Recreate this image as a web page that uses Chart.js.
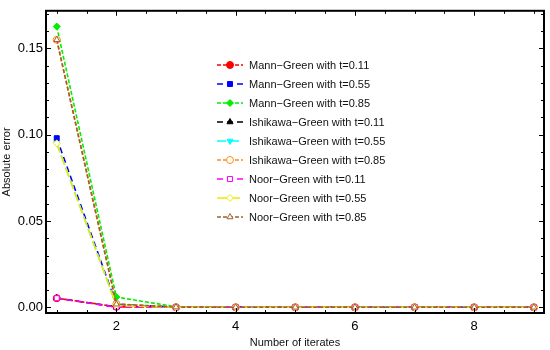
<!DOCTYPE html>
<html>
<head>
<meta charset="utf-8">
<script src="https://cdn.jsdelivr.net/npm/chart.js@4.4.0/dist/chart.umd.min.js"></script>
<style>
  html, body { margin: 0; padding: 0; background: #fff; }
  #wrap { width: 550px; height: 350px; }
</style>
</head>
<body>
<div id="wrap"><canvas id="chart" width="550" height="350"></canvas></div>
<script>
// --- data ---
const iterates = [1, 2, 3, 4, 5, 6, 7, 8, 9];
const xTickLabels = [2, 4, 6, 8];
const yTickLabels = [0.00, 0.05, 0.10, 0.15];

const seriesNames = [
    'Mann\u2212Green with t=0.11',
    'Mann\u2212Green with t=0.55',
    'Mann\u2212Green with t=0.85',
    'Ishikawa\u2212Green with t=0.11',
    'Ishikawa\u2212Green with t=0.55',
    'Ishikawa\u2212Green with t=0.85',
    'Noor\u2212Green with t=0.11',
    'Noor\u2212Green with t=0.55',
    'Noor\u2212Green with t=0.85'
];

const mann011 = [0.0053, 0.0003, 0, 0, 0, 0, 0, 0, 0];
const mann055 = [0.0980, 0.0017, 0.0001, 0, 0, 0, 0, 0, 0];
const mann085 = [0.1627, 0.0059, 0.0003, 0, 0, 0, 0, 0, 0];
const ishi011 = [0.0053, 0.0002, 0, 0, 0, 0, 0, 0, 0];
const ishi055 = [0.0950, 0.0012, 0, 0, 0, 0, 0, 0, 0];
const ishi085 = [0.1550, 0.0020, 0.0001, 0, 0, 0, 0, 0, 0];
const noor011 = [0.0053, 0.0001, 0, 0, 0, 0, 0, 0, 0];
const noor055 = [0.0950, 0.0010, 0, 0, 0, 0, 0, 0, 0];
const noor085 = [0.1550, 0.0018, 0.0001, 0, 0, 0, 0, 0, 0];

const seriesValues = [mann011, mann055, mann085, ishi011, ishi055, ishi085, noor011, noor055, noor085];

// --- styles ---
const seriesStyles = [
    { color: '#ff0000', fill: '#ff0000', point: 'circle', rot: 0, dash: [4, 2] },
    { color: '#0000ff', fill: '#0000ff', point: 'rect', rot: 0, dash: [6, 4] },
    { color: '#00ee00', fill: '#00ee00', point: 'rectRot', rot: 0, dash: [4, 2] },
    { color: '#000000', fill: '#000000', point: 'triangle', rot: 0, dash: [6, 4] },
    { color: '#00ffff', fill: '#00ffff', point: 'triangle', rot: 180, dash: [9, 4] },
    { color: '#ff8c1a', fill: '#ffffff', point: 'circle', rot: 0, dash: [4, 2] },
    { color: '#ff00ff', fill: '#ffffff', point: 'rect', rot: 0, dash: [6, 4] },
    { color: '#f0e800', fill: '#ffffff', point: 'rectRot', rot: 0, dash: [10, 3] },
    { color: '#a0602a', fill: '#ffffff', point: 'triangle', rot: 0, dash: [4, 2] }
];

const FONT = "'Liberation Sans', Arial, sans-serif";

const datasets = seriesNames.map((name, i) => ({
    label: name,
    data: iterates.map((x, j) => ({ x: x, y: seriesValues[i][j] })),
    borderColor: seriesStyles[i].color,
    backgroundColor: seriesStyles[i].fill,
    pointBorderColor: seriesStyles[i].color,
    pointBackgroundColor: seriesStyles[i].fill,
    pointStyle: seriesStyles[i].point,
    pointRotation: seriesStyles[i].rot,
    pointRadius: 3.5,
    pointBorderWidth: 1,
    borderWidth: 1.6,
    borderDash: seriesStyles[i].dash,
    tension: 0,
    order: seriesNames.length - i
}));

// frame with inward ticks
const framePlugin = {
    id: 'frame',
    afterDatasetsDraw(chart) {
        const { ctx, chartArea: a, scales: { x, y } } = chart;
        ctx.save();
        ctx.strokeStyle = '#000';
        ctx.lineWidth = 1;
        ctx.beginPath();
        for (let v = 1; v <= 9.01; v += 0.5) {
            const px = Math.round(x.getPixelForValue(v)) + 0.5;
            const len = xTickLabels.includes(v) ? 5 : 3;
            ctx.moveTo(px, a.bottom); ctx.lineTo(px, a.bottom - len);
            ctx.moveTo(px, a.top); ctx.lineTo(px, a.top + len);
        }
        for (let k = 0; k <= 17; k++) {
            const v = k * 0.01;
            const py = Math.round(y.getPixelForValue(v)) + 0.5;
            const len = k % 5 === 0 ? 5 : 3;
            ctx.moveTo(a.left, py); ctx.lineTo(a.left + len, py);
            ctx.moveTo(a.right, py); ctx.lineTo(a.right - len, py);
        }
        ctx.stroke();
        ctx.lineWidth = 2;
        ctx.strokeRect(a.left, a.top, a.right - a.left, a.bottom - a.top);
        ctx.restore();
    }
};

// legend drawn inside the plot
const insideLegend = {
    id: 'insideLegend',
    afterDraw(chart) {
        const ctx = chart.ctx;
        const left = 217, lineLen = 26, top = 65, rowH = 19;
        ctx.save();
        chart.data.datasets.forEach((ds, i) => {
            const yy = top + i * rowH;
            ctx.strokeStyle = ds.borderColor;
            ctx.lineWidth = 1.6;
            ctx.setLineDash(ds.borderDash);
            ctx.beginPath();
            ctx.moveTo(left, yy);
            ctx.lineTo(left + lineLen, yy);
            ctx.stroke();
            ctx.setLineDash([]);
            ctx.fillStyle = ds.pointBackgroundColor;
            ctx.strokeStyle = ds.pointBorderColor;
            ctx.lineWidth = 1;
            Chart.helpers.drawPoint(ctx, {
                pointStyle: ds.pointStyle,
                rotation: ds.pointRotation,
                radius: 3.5,
                borderWidth: 1
            }, left + lineLen / 2, yy);
            ctx.fillStyle = '#111';
            ctx.font = '11px ' + FONT;
            ctx.textBaseline = 'middle';
            ctx.textAlign = 'left';
            ctx.fillText(ds.label, left + lineLen + 6, yy + 0.5);
        });
        ctx.restore();
    }
};

new Chart(document.getElementById('chart'), {
    type: 'line',
    data: { datasets: datasets },
    plugins: [framePlugin, insideLegend],
    options: {
        responsive: false,
        animation: false,
        layout: { padding: { top: 8, right: 6, left: 0, bottom: 0 } },
        plugins: { legend: { display: false }, tooltip: { enabled: false } },
        scales: {
            x: {
                type: 'linear',
                min: 0.82,
                max: 9.17,
                grid: { display: false, drawTicks: false },
                border: { display: false },
                afterBuildTicks: s => { s.ticks = xTickLabels.map(v => ({ value: v })); },
                afterFit: s => { s.height = 37; },
                ticks: { color: '#000', padding: 6, font: { family: FONT, size: 13 } },
                title: {
                    display: true, text: 'Number of iterates', color: '#111',
                    font: { family: FONT, size: 11 }, padding: { top: 0, bottom: 0 }
                }
            },
            y: {
                min: -0.0033,
                max: 0.1718,
                grid: { display: false, drawTicks: false },
                border: { display: false },
                afterBuildTicks: s => { s.ticks = yTickLabels.map(v => ({ value: v })); },
                afterFit: s => { s.width = 46; },
                ticks: {
                    color: '#000', padding: 3, font: { family: FONT, size: 13 },
                    callback: v => v.toFixed(2)
                },
                title: {
                    display: true, text: 'Absolute error', color: '#111',
                    font: { family: FONT, size: 11 }, padding: { top: 0, bottom: 0 }
                }
            }
        }
    }
});
</script>
</body>
</html>
